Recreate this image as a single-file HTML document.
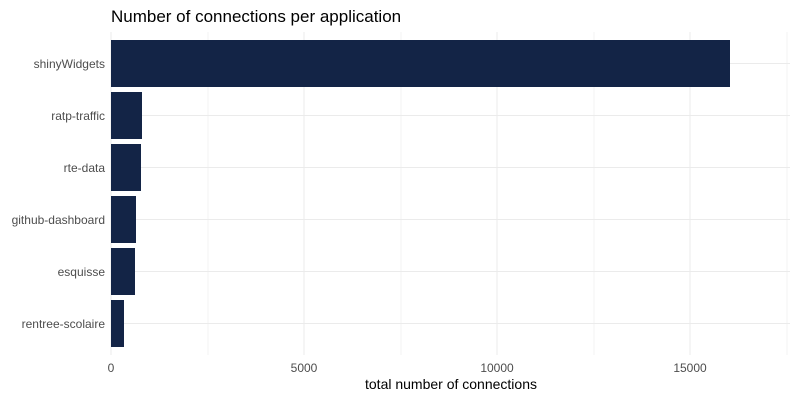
<!DOCTYPE html><html><head><style>body{margin:0;background:#fff}</style></head><body>
<svg width="800" height="400" xmlns="http://www.w3.org/2000/svg" font-family="Liberation Sans, sans-serif">
<rect width="800" height="400" fill="#fff"/>
<g stroke="#ebebeb" stroke-width="1">
<line x1="208" y1="32" x2="208" y2="355" stroke-width="0.6"/>
<line x1="401" y1="32" x2="401" y2="355" stroke-width="0.6"/>
<line x1="594" y1="32" x2="594" y2="355" stroke-width="0.6"/>
<line x1="787" y1="32" x2="787" y2="355" stroke-width="0.6"/>
<line x1="111" y1="32" x2="111" y2="355"/>
<line x1="304" y1="32" x2="304" y2="355"/>
<line x1="497" y1="32" x2="497" y2="355"/>
<line x1="690" y1="32" x2="690" y2="355"/>
<line x1="111" y1="63.5" x2="790" y2="63.5"/>
<line x1="111" y1="115.5" x2="790" y2="115.5"/>
<line x1="111" y1="167.5" x2="790" y2="167.5"/>
<line x1="111" y1="219.5" x2="790" y2="219.5"/>
<line x1="111" y1="271.5" x2="790" y2="271.5"/>
<line x1="111" y1="323.5" x2="790" y2="323.5"/>
</g>
<g fill="#132446">
<rect x="111" y="40" width="619" height="47"/>
<rect x="111" y="92" width="31" height="47"/>
<rect x="111" y="144" width="30" height="47"/>
<rect x="111" y="196" width="25" height="47"/>
<rect x="111" y="248" width="24" height="47"/>
<rect x="111" y="300" width="13" height="47"/>
</g>
<g font-size="12" fill="#4d4d4d" text-anchor="end">
<text x="105" y="68">shinyWidgets</text>
<text x="105" y="120">ratp-traffic</text>
<text x="105" y="172">rte-data</text>
<text x="105" y="224">github-dashboard</text>
<text x="105" y="276">esquisse</text>
<text x="105" y="328">rentree-scolaire</text>
</g>
<g font-size="12" fill="#4d4d4d" text-anchor="middle">
<text x="111" y="372">0</text>
<text x="304" y="372">5000</text>
<text x="497" y="372">10000</text>
<text x="690" y="372">15000</text>
</g>
<text x="451" y="389" font-size="14" fill="#000" text-anchor="middle">total number of connections</text>
<text x="111" y="22" font-size="17" fill="#000">Number of connections per application</text>
</svg>
</body></html>
